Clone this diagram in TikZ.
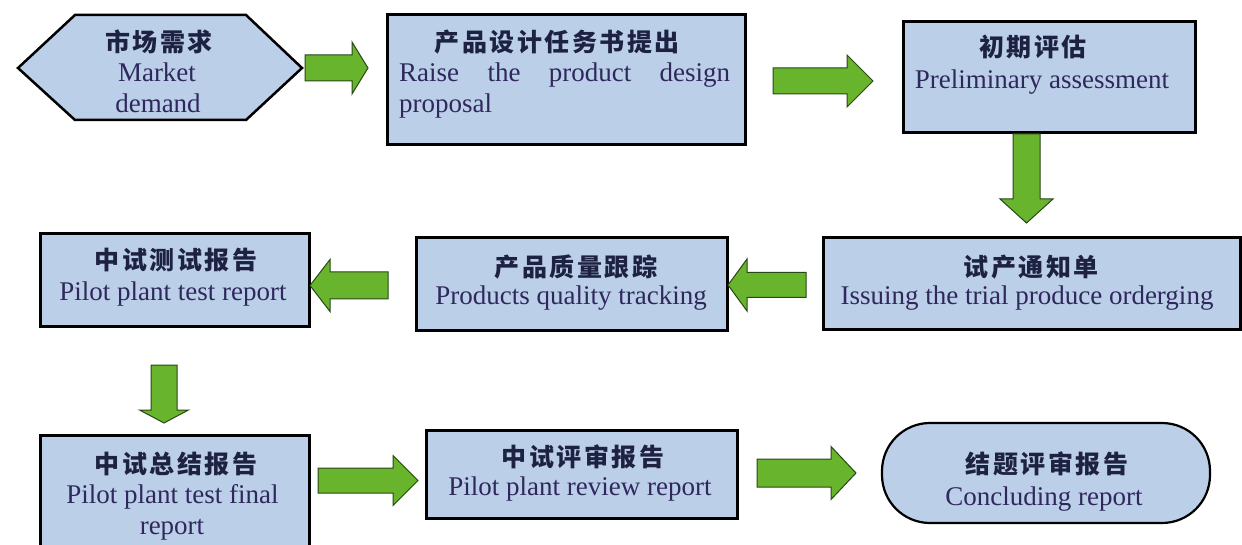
\documentclass[tikz,border=0pt]{standalone}
\usepackage{fontspec}
\setmainfont{Liberation Serif}
\newfontfamily\cjk{Noto Sans CJK SC}[LetterSpace=10]
\definecolor{boxfill}{RGB}{188,207,233}
\definecolor{arrowfill}{RGB}{104,180,44}
\definecolor{arrowline}{RGB}{40,72,22}
\definecolor{titlecol}{RGB}{30,34,66}
\definecolor{textcol}{RGB}{46,40,92}
\newcommand{\rarrow}[6]{%
  \draw[garrow] (#1,#4-#5) -- (#2,#4-#5) -- (#2,#4-#6) -- (#3,#4) -- (#2,#4+#6) -- (#2,#4+#5) -- (#1,#4+#5) -- cycle;}
\newcommand{\darrow}[6]{%
  \draw[garrow] (#1-#5,#2) -- (#1-#5,#3) -- (#1-#6,#3) -- (#1,#4) -- (#1+#6,#3) -- (#1+#5,#3) -- (#1+#5,#2) -- cycle;}
\begin{document}
\begin{tikzpicture}[x=1pt,y=-1pt,
  box/.style={draw=black, line width=3pt, fill=boxfill, inner sep=0pt, rectangle},
  garrow/.style={draw=arrowline, line width=1pt, fill=arrowfill, line join=miter},
  title/.style={anchor=base, inner sep=0pt, text=titlecol, font=\cjk\bfseries\fontsize{25}{30}\selectfont},
  eng/.style={anchor=base, inner sep=0pt, text=textcol, font=\fontsize{27}{32}\selectfont}]
\useasboundingbox (0,0) rectangle (1242,545);
\fill[white] (0,0) rectangle (1242,545);
\clip (0,0) rectangle (1242,545);

% boxes
\draw[draw=black, line width=2.5pt, fill=boxfill, line join=miter]
  (18,68) -- (75,15) -- (246,15) -- (302,68) -- (246,120) -- (75,120) -- cycle;
\node[box, minimum width=358pt, minimum height=130pt] (b2) at (566,80) {};
\node[box, minimum width=292pt, minimum height=111pt] (b3) at (1049,77.5) {};
\node[box, minimum width=417pt, minimum height=91pt] (b4) at (1031.5,283.5) {};
\node[box, minimum width=311pt, minimum height=92pt] (b5) at (571.5,284) {};
\node[box, minimum width=269pt, minimum height=92pt] (b6) at (174.5,280) {};
\node[box, minimum width=269pt, minimum height=135pt] (b7) at (174.5,502.5) {};
\node[box, minimum width=311pt, minimum height=88pt] (b8) at (581.5,474) {};
\node[draw=black, line width=2.2pt, fill=boxfill, rounded corners=48pt, inner sep=0pt,
  minimum width=328pt, minimum height=100pt] (b9) at (1046,473) {};

% texts
\node[title] (t1) at (159,52) {市场需求};
\node[eng] (e1a) at (157,82) {Market};
\node[eng] (e1b) at (158,113) {demand};

\node[title] (t2) at (557,52) {产品设计任务书提出};
\node[eng, anchor=base west] (e2a) at (399,82) {\makebox[331pt][s]{Raise the product design}};
\node[eng, anchor=base west] (e2b) at (399,113) {proposal};

\node[title] (t3) at (1033,57) {初期评估};
\node[eng] (e3) at (1042,89) {Preliminary assessment};

\node[title] (t4) at (1031,277) {试产通知单};
\node[eng] (e4) at (1027,305) {Issuing the trial produce orderging};

\node[title] (t5) at (576,277) {产品质量跟踪};
\node[eng] (e5) at (571,305) {Products quality tracking};

\node[title] (t6) at (176,270) {中试测试报告};
\node[eng] (e6) at (173,301) {Pilot plant test report};

\node[title] (t7) at (176,473) {中试总结报告};
\node[eng] (e7a) at (172.5,503) {Pilot plant test final};
\node[eng] (e7b) at (172,534) {report};

\node[title] (t8) at (583,466) {中试评审报告};
\node[eng] (e8) at (580,495) {Pilot plant review report};

\node[title] (t9) at (1047,473) {结题评审报告};
\node[eng] (e9) at (1044,505) {Concluding report};

% block arrows
\rarrow{305}{352}{368}{68}{13}{26}
\rarrow{773}{847}{873}{81}{13}{26}
\darrow{1026.5}{134}{199}{223}{13.5}{26.5}
\rarrow{806}{747}{728}{285}{12.5}{26}
\rarrow{388}{330}{310}{285.5}{13.5}{26}
\darrow{164}{365}{410}{423}{13}{24.5}
\rarrow{318}{393}{418}{480.5}{12.5}{25}
\rarrow{757}{831}{856}{473}{14}{26.5}
\end{tikzpicture}
\end{document}
